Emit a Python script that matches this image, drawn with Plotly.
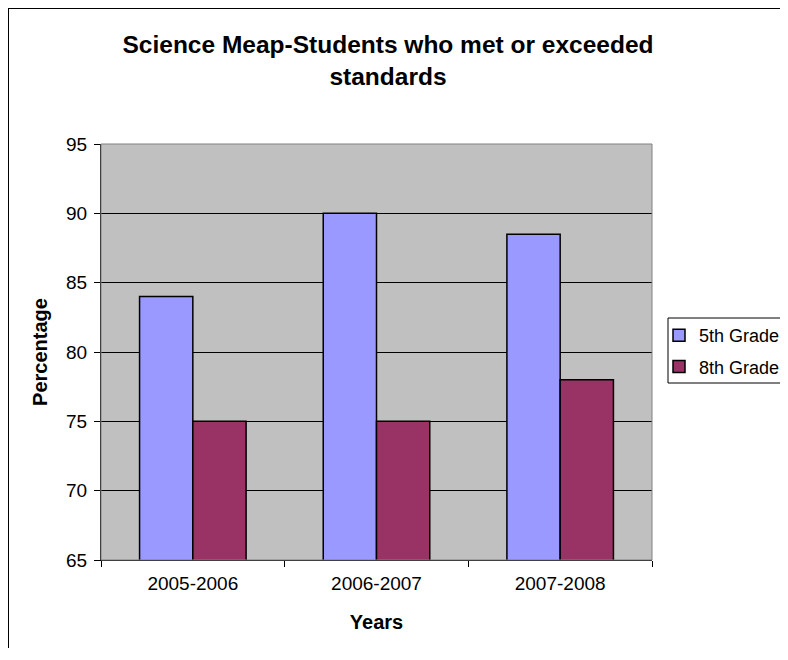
import plotly.graph_objects as go

years = ["2005-2006", "2006-2007", "2007-2008"]
grade5 = [84, 90, 88.5]
grade8 = [75, 75, 78]
series_names = ["5th Grade", "8th Grade"]
y_ticks = [65, 70, 75, 80, 85, 90, 95]

# page has an 8px body margin; figure coordinates below are page - 8
W, H = 780, 640
L, R, T, B = 93, 644, 136, 552

fig = go.Figure()
fig.add_trace(go.Bar(x=years, y=grade5, name=series_names[0], legendgroup="a",
                     marker=dict(color="#9999FF", line=dict(color="black", width=1.5))))
fig.add_trace(go.Bar(x=years, y=grade8, name=series_names[1], legendgroup="b",
                     marker=dict(color="#993366", line=dict(color="black", width=1.5))))

pw, ph = R - L, B - T
def px2paper_x(x):
    return (x - L) / pw
def px2paper_y(y):
    return (B - y) / ph

fig.update_layout(
    width=W, height=H,
    margin=dict(l=L, r=W - R, t=T, b=H - B, pad=0, autoexpand=False),
    paper_bgcolor="white",
    plot_bgcolor="#C0C0C0",
    barmode="group",
    bargap=0.42,
    bargroupgap=0,
    font=dict(family="Liberation Sans, Arial, sans-serif", size=19, color="black"),
    title=dict(text="<b>Science Meap-Students who met or exceeded<br>standards</b>",
               x=380 / W, xanchor="center", y=1 - 45 / H, yanchor="middle",
               font=dict(size=24.5, color="black")),
    xaxis=dict(
        type="category",
        showline=True, linecolor="black", linewidth=1,
        ticks="outside", tickson="boundaries", ticklen=6, tickcolor="black",
        tickfont=dict(size=19), ticklabelstandoff=6,
        title=dict(text="<b>Years</b>", font=dict(size=20), standoff=22),
        showgrid=False, zeroline=False,
    ),
    yaxis=dict(
        range=[65, 95],
        tickvals=y_ticks,
        showline=True, linecolor="black", linewidth=1,
        ticks="outside", ticklen=6, tickcolor="black",
        tickfont=dict(size=19), ticklabelstandoff=3,
        showgrid=True, gridcolor="black", gridwidth=1,
        zeroline=False,
        title=dict(text="<b>Percentage</b>", font=dict(size=20), standoff=13),
    ),
    legend=dict(
        x=px2paper_x(651), xanchor="left",
        y=px2paper_y(309), yanchor="top",
        bgcolor="rgba(0,0,0,0)", borderwidth=0,
        font=dict(size=18),
        itemwidth=30,
        tracegroupgap=5,
    ),
    shapes=[
        # plot area border
        dict(type="rect", xref="paper", yref="paper", x0=0, x1=1, y0=0, y1=1,
             line=dict(color="#808080", width=1), layer="above"),
        # legend box (left, top, bottom edges; right edge lies off-page)
        dict(type="line", xref="paper", yref="paper",
             x0=px2paper_x(660), x1=px2paper_x(660),
             y0=px2paper_y(375), y1=px2paper_y(310),
             line=dict(color="black", width=1)),
        dict(type="line", xref="paper", yref="paper",
             x0=px2paper_x(660), x1=px2paper_x(800),
             y0=px2paper_y(310), y1=px2paper_y(310),
             line=dict(color="black", width=1)),
        dict(type="line", xref="paper", yref="paper",
             x0=px2paper_x(660), x1=px2paper_x(800),
             y0=px2paper_y(375), y1=px2paper_y(375),
             line=dict(color="black", width=1)),
        # outer chart border (left and top edges)
        dict(type="line", xref="paper", yref="paper",
             x0=px2paper_x(0), x1=px2paper_x(0),
             y0=px2paper_y(720), y1=px2paper_y(0),
             line=dict(color="black", width=2)),
        dict(type="line", xref="paper", yref="paper",
             x0=px2paper_x(0), x1=px2paper_x(820),
             y0=px2paper_y(0), y1=px2paper_y(0),
             line=dict(color="black", width=2)),
    ],
)

fig.write_html(
    "out.html",
    post_script="document.documentElement.style.overflow='hidden';"
                "document.body.style.overflow='hidden';",
)
